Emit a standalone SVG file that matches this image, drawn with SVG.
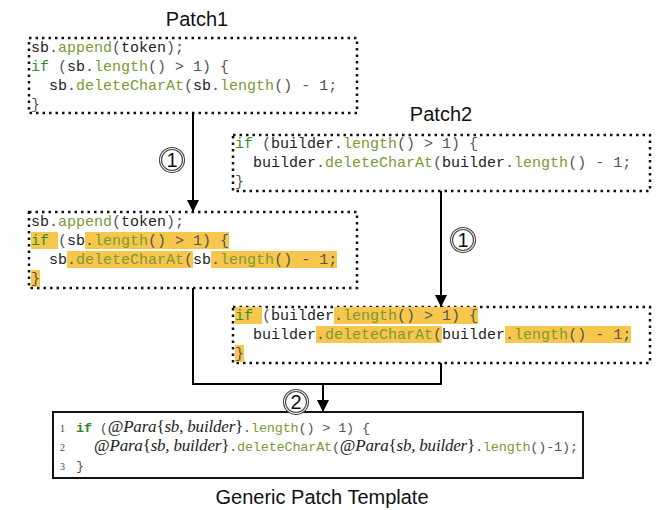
<svg xmlns="http://www.w3.org/2000/svg" width="661" height="510" viewBox="0 0 661 510">
<style>
.code{font-family:"Liberation Mono","DejaVu Sans Mono",monospace;font-size:15px;white-space:pre;fill:#222}
.mono{font-family:"Liberation Mono","DejaVu Sans Mono",monospace;font-size:13.5px}
.rm{font-family:"Liberation Serif","DejaVu Serif",serif;font-size:17px;fill:#222}
.it{font-family:"Liberation Serif","DejaVu Serif",serif;font-size:17px;font-style:italic;fill:#222}
.t5{white-space:pre;fill:#222}
.p{fill:#555}
.k{fill:#2f8f2f}
.kb{fill:#2a8a2a;font-weight:bold}
.m{fill:#7a9a34}
.hl{fill:#f7c64d}
.dot{fill:none;stroke:#111;stroke-width:2.5;stroke-dasharray:2.5 4}
.solid{fill:#fff;stroke:#111;stroke-width:2}
.title{font-family:"Liberation Sans",Arial,sans-serif;font-size:20px;fill:#111;text-anchor:middle}
.ln{font-family:"Liberation Serif",serif;font-size:10px;fill:#444}
.conn{stroke:#000;stroke-width:2;fill:none}
.ring{fill:#fff;stroke:#444;stroke-width:1.1}
.num{font-family:"Liberation Sans",Arial,sans-serif;font-size:20px;fill:#111;text-anchor:middle}
</style>
<defs>
<marker id="arr" markerUnits="userSpaceOnUse" markerWidth="12" markerHeight="14" refX="12" refY="6" orient="auto">
<path d="M0,0 L12,6 L0,12 Z" fill="#000"/>
</marker>
</defs>

<text class="title" x="197" y="26">Patch1</text>
<text class="title" x="441" y="121">Patch2</text>
<text class="title" x="322" y="504">Generic Patch Template</text>

<g id="patch1">
<rect class="dot" x="29" y="38" width="328" height="75"/>
<text class="code" x="31" y="52">sb<tspan class="p">.</tspan><tspan class="m">append</tspan><tspan class="p">(</tspan>token<tspan class="p">);</tspan></text>
<text class="code" x="31" y="71"><tspan class="k">if</tspan><tspan class="p"> (</tspan>sb<tspan class="p">.</tspan><tspan class="m">length</tspan><tspan class="p">() &gt; 1) {</tspan></text>
<text class="code" x="31" y="90">  sb<tspan class="p">.</tspan><tspan class="m">deleteCharAt</tspan><tspan class="p">(</tspan>sb<tspan class="p">.</tspan><tspan class="m">length</tspan><tspan class="p">() - 1;</tspan></text>
<text class="code" x="31" y="109"><tspan class="p">}</tspan></text>
</g>

<g id="patch2">
<rect class="dot" x="233" y="135" width="417" height="56"/>
<text class="code" x="235" y="148"><tspan class="k">if</tspan><tspan class="p"> (</tspan>builder<tspan class="p">.</tspan><tspan class="m">length</tspan><tspan class="p">() &gt; 1) {</tspan></text>
<text class="code" x="235" y="167">  builder<tspan class="p">.</tspan><tspan class="m">deleteCharAt</tspan><tspan class="p">(</tspan>builder<tspan class="p">.</tspan><tspan class="m">length</tspan><tspan class="p">() - 1;</tspan></text>
<text class="code" x="235" y="186"><tspan class="p">}</tspan></text>
</g>

<g id="patch1-marked">
<rect class="dot" x="29" y="212" width="328" height="76"/>
<rect class="hl" x="31" y="232" width="27" height="17"/>
<rect class="hl" x="85" y="232" width="144" height="17"/>
<rect class="hl" x="67" y="251" width="126" height="17"/>
<rect class="hl" x="211" y="251" width="126" height="17"/>
<rect class="hl" x="31" y="270" width="9" height="17"/>
<text class="code" x="31" y="226">sb<tspan class="p">.</tspan><tspan class="m">append</tspan><tspan class="p">(</tspan>token<tspan class="p">);</tspan></text>
<text class="code" x="31" y="245"><tspan class="k">if</tspan><tspan class="p"> (</tspan>sb<tspan class="p">.</tspan><tspan class="m">length</tspan><tspan class="p">() &gt; 1) {</tspan></text>
<text class="code" x="31" y="264">  sb<tspan class="p">.</tspan><tspan class="m">deleteCharAt</tspan><tspan class="p">(</tspan>sb<tspan class="p">.</tspan><tspan class="m">length</tspan><tspan class="p">() - 1;</tspan></text>
<text class="code" x="31" y="283"><tspan class="p">}</tspan></text>
</g>

<g id="patch2-marked">
<rect class="dot" x="233" y="307" width="417" height="56"/>
<rect class="hl" x="235" y="307" width="27" height="17"/>
<rect class="hl" x="334" y="307" width="144" height="17"/>
<rect class="hl" x="316" y="326" width="126" height="17"/>
<rect class="hl" x="505" y="326" width="126" height="17"/>
<rect class="hl" x="235" y="345" width="9" height="17"/>
<text class="code" x="235" y="320"><tspan class="k">if</tspan><tspan class="p"> (</tspan>builder<tspan class="p">.</tspan><tspan class="m">length</tspan><tspan class="p">() &gt; 1) {</tspan></text>
<text class="code" x="235" y="339">  builder<tspan class="p">.</tspan><tspan class="m">deleteCharAt</tspan><tspan class="p">(</tspan>builder<tspan class="p">.</tspan><tspan class="m">length</tspan><tspan class="p">() - 1;</tspan></text>
<text class="code" x="235" y="358"><tspan class="p">}</tspan></text>
</g>

<g id="template">
<rect class="solid" x="53" y="412" width="530" height="66"/>
<text class="ln" x="60" y="432">1</text>
<text class="ln" x="60" y="451">2</text>
<text class="ln" x="60" y="470">3</text>
<text class="t5" x="76" y="432" textLength="294" lengthAdjust="spacing"><tspan class="mono kb">if</tspan><tspan class="mono p"> (</tspan><tspan class="rm">@</tspan><tspan class="it">Para</tspan><tspan class="rm">{</tspan><tspan class="it">sb, builder</tspan><tspan class="rm">}</tspan><tspan class="mono p">.</tspan><tspan class="mono m">length</tspan><tspan class="mono p">() &gt; 1) {</tspan></text>
<text class="t5" x="94" y="451" textLength="484" lengthAdjust="spacing"><tspan class="rm">@</tspan><tspan class="it">Para</tspan><tspan class="rm">{</tspan><tspan class="it">sb, builder</tspan><tspan class="rm">}</tspan><tspan class="mono p">.</tspan><tspan class="mono m">deleteCharAt</tspan><tspan class="mono p">(</tspan><tspan class="rm">@</tspan><tspan class="it">Para</tspan><tspan class="rm">{</tspan><tspan class="it">sb, builder</tspan><tspan class="rm">}</tspan><tspan class="mono p">.</tspan><tspan class="mono m">length</tspan><tspan class="mono p">()-1);</tspan></text>
<text class="t5" x="76" y="470"><tspan class="mono p">}</tspan></text>
</g>

<g id="connectors">
<path class="conn" d="M193,113 V212" marker-end="url(#arr)"/>
<path class="conn" d="M441,191 V307" marker-end="url(#arr)"/>
<path class="conn" d="M193,288 V384 H441 V363"/>
<path class="conn" d="M323,384 V412" marker-end="url(#arr)"/>
<g id="step1a">
<circle class="ring" cx="172" cy="160" r="12.5"/>
<circle class="ring" cx="172" cy="160" r="10.5"/>
<text class="num" x="172" y="167">1</text>
</g>
<g id="step1b">
<circle class="ring" cx="463" cy="240" r="12.5"/>
<circle class="ring" cx="463" cy="240" r="10.5"/>
<text class="num" x="463" y="247">1</text>
</g>
<g id="step2">
<circle class="ring" cx="296" cy="402" r="12.5"/>
<circle class="ring" cx="296" cy="402" r="10.5"/>
<text class="num" x="296" y="409">2</text>
</g>
</g>
</svg>
